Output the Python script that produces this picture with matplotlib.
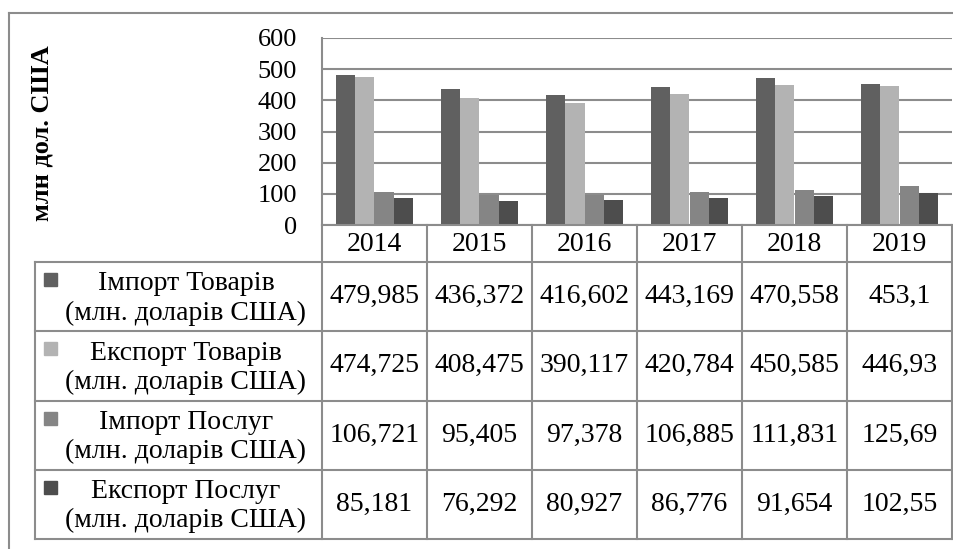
import matplotlib.pyplot as plt
from matplotlib.patches import Rectangle
import numpy as np

years = ['2014', '2015', '2016', '2017', '2018', '2019']
series_names = ['Імпорт Товарів', 'Експорт Товарів', 'Імпорт Послуг', 'Експорт Послуг']
unit = '(млн. доларів США)'
import_goods = [479.985, 436.372, 416.602, 443.169, 470.558, 453.1]
export_goods = [474.725, 408.475, 390.117, 420.784, 450.585, 446.93]
import_services = [106.721, 95.405, 97.378, 106.885, 111.831, 125.69]
export_services = [85.181, 76.292, 80.927, 86.776, 91.654, 102.55]
series = [import_goods, export_goods, import_services, export_services]
colors = ['#606060', '#b3b3b3', '#858585', '#4d4d4d']
ylabel = 'млн дол. США'

plt.rcParams['font.family'] = ['Liberation Serif', 'DejaVu Serif']
line_c = '#8c8c8c'

W, H = 954, 549
fig = plt.figure(figsize=(W / 100, H / 100), dpi=100)


def fx(px):
    return px / W


def fy(py):
    return 1 - py / H


# plot area in pixel coords
left, right, top, bottom = 322, 952, 38, 225
ax = fig.add_axes([fx(left), fy(bottom), fx(right) - fx(left), fy(top) - fy(bottom)])

x = np.arange(len(years))
w = 0.182
for i, vals in enumerate(series):
    ax.bar(x + (i - 1.5) * w, vals, width=w, color=colors[i], zorder=3)

ax.set_xlim(-0.5, len(years) - 0.5)
ax.set_ylim(0, 600)
ax.set_yticks(np.arange(0, 601, 100))
ax.set_xticks([])
ax.tick_params(axis='y', length=0, pad=18, labelsize=19)
ax.yaxis.grid(True, color=line_c, linewidth=1.5, zorder=0)
for s in ['top', 'right', 'bottom']:
    ax.spines[s].set_visible(False)
ax.spines['left'].set_color(line_c)
ax.spines['left'].set_linewidth(1.5)

fig.text(fx(42), fy(133), ylabel, rotation=90, ha='center', va='center',
         fontsize=19, fontweight='bold')

# overlay for frame and data table
ov = fig.add_axes([0, 0, 1, 1], zorder=5)
ov.set_xlim(0, W)
ov.set_ylim(H, 0)
ov.axis('off')

lw = 1.5
# outer frame
ov.plot([9, 9], [13, H], color=line_c, lw=lw)
ov.plot([9, W], [13, 13], color=line_c, lw=lw)

tbl_left = 35
col_w = (right - left) / len(years)
cols = [left + col_w * k for k in range(len(years) + 1)]
head_bot = 262
row_h = (539 - head_bot) / len(series)
rows = [head_bot + row_h * k for k in range(len(series) + 1)]

ov.plot([left, right], [bottom, bottom], color=line_c, lw=lw)
for yy in rows:
    ov.plot([tbl_left, right], [yy, yy], color=line_c, lw=lw)
ov.plot([tbl_left, tbl_left], [head_bot, rows[-1]], color=line_c, lw=lw)
for xx in cols:
    ov.plot([xx, xx], [bottom, rows[-1]], color=line_c, lw=lw)

fs = 20
for j, yr in enumerate(years):
    ov.text((cols[j] + cols[j + 1]) / 2, (bottom + head_bot) / 2 + 1, yr,
            ha='center', va='center', fontsize=fs)

for i, name in enumerate(series_names):
    r0 = rows[i]
    ov.add_patch(Rectangle((44, r0 + 11), 13, 13, color=colors[i]))
    ov.text(186, r0 + 22, name, ha='center', va='center', fontsize=fs)
    ov.text(186, r0 + 51, unit, ha='center', va='center', fontsize=fs)
    for j, v in enumerate(series[i]):
        ov.text((cols[j] + cols[j + 1]) / 2, r0 + row_h / 2, f'{v:g}'.replace('.', ','),
                ha='center', va='center', fontsize=fs)

fig.savefig('out.png', dpi=100, facecolor='white')
